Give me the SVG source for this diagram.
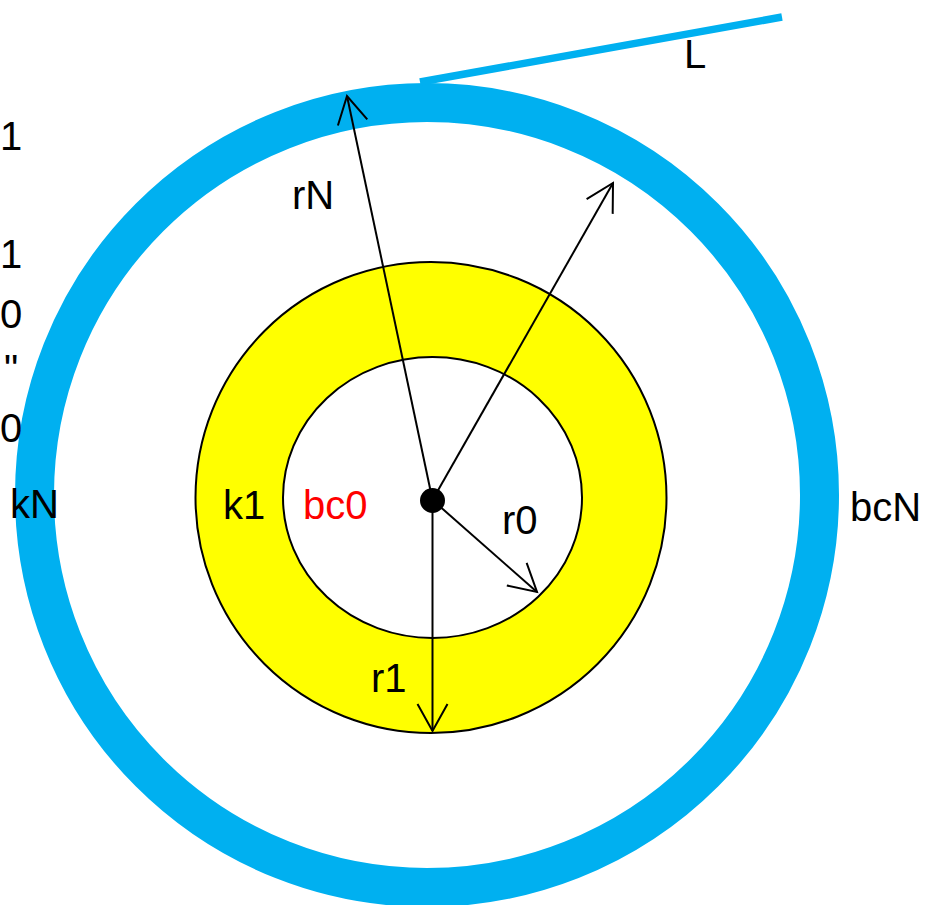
<svg xmlns="http://www.w3.org/2000/svg" width="926" height="905" viewBox="0 0 926 905">
  <style>
    .lbl { font-family: "Liberation Sans", Arial, sans-serif; font-size: 40px; fill: #000000; }
    .red { fill: #ff0000; }
    .arrow { stroke: #000000; stroke-width: 2; fill: none; marker-end: url(#vhead); }
    .ring { fill: none; stroke: #00b0f0; }
    .outline { stroke: #000000; stroke-width: 2; }
  </style>
  <defs>
    <marker id="vhead" markerUnits="userSpaceOnUse" viewBox="-30 -20 34 40" refX="0" refY="0" markerWidth="34" markerHeight="40" orient="auto">
      <path d="M-27,-15 L0,0 L-27,15" fill="none" stroke="#000000" stroke-width="2"/>
    </marker>
  </defs>
  <rect x="0" y="0" width="926" height="905" fill="#ffffff"/>

  <g id="outer-ring">
    <ellipse class="ring" cx="427" cy="495" rx="392.5" ry="392.5" stroke-width="39"/>
    <line x1="420" y1="82" x2="782" y2="17" stroke="#00b0f0" stroke-width="7.5"/>
  </g>

  <g id="layer-k1">
    <circle class="outline" cx="431" cy="497.5" r="235.5" fill="#ffff00"/>
  </g>

  <g id="core-bc0">
    <ellipse class="outline" cx="432.5" cy="497.5" rx="149.5" ry="140.5" fill="#ffffff"/>
  </g>

  <g id="connectors">
    <line class="arrow" x1="432.5" y1="500" x2="347" y2="96"/>
    <line class="arrow" x1="432.5" y1="500" x2="613" y2="183"/>
    <line class="arrow" x1="432.5" y1="500" x2="537" y2="592"/>
    <line class="arrow" x1="432.5" y1="500" x2="432.5" y2="731"/>
  </g>

  <g id="center">
    <circle cx="432.5" cy="500.5" r="12.5" fill="#000000"/>
  </g>

  <g id="labels">
    <text class="lbl" x="684" y="68">L</text>
    <text class="lbl" x="292" y="209">rN</text>
    <text class="lbl" x="10" y="518">kN</text>
    <text class="lbl" x="850" y="521">bcN</text>
    <text class="lbl" x="223" y="519">k1</text>
    <text class="lbl red" x="303" y="519">bc0</text>
    <text class="lbl" x="502" y="534">r0</text>
    <text class="lbl" x="371" y="692">r1</text>
    <text class="lbl" x="0" y="150">1</text>
    <text class="lbl" x="0" y="268">1</text>
    <text class="lbl" x="0" y="328">0</text>
    <text class="lbl" x="4" y="383">"</text>
    <text class="lbl" x="0" y="442">0</text>
  </g>
</svg>
